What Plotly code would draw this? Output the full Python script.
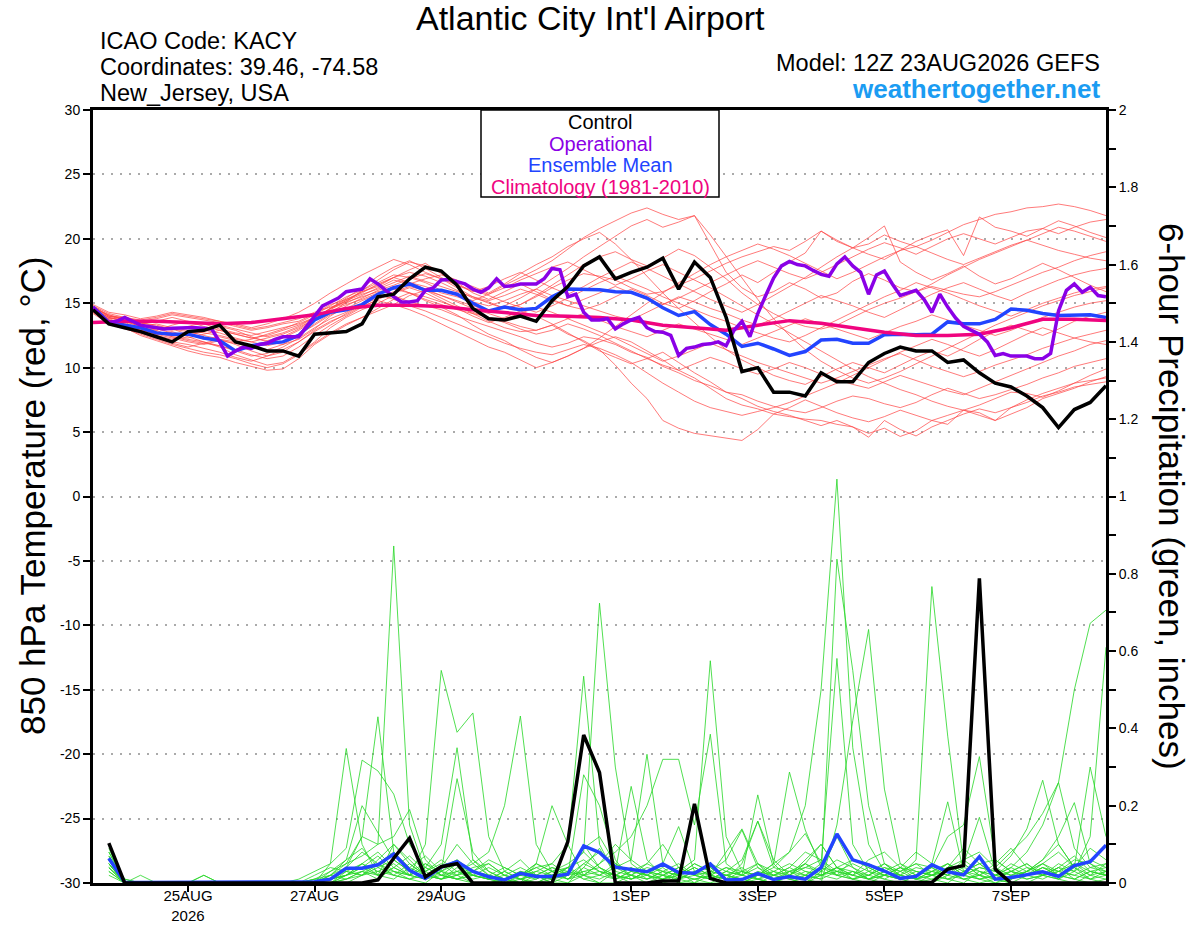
import pandas as pd
import plotly.graph_objects as go

# GEFS plume for KACY, 12Z 23AUG2026 run
t6 = pd.date_range("2026-08-23 12:00", periods=65, freq="6h")
t3 = pd.date_range("2026-08-23 12:00", periods=129, freq="3h")
t12 = pd.date_range("2026-08-23 12:00", periods=33, freq="12h")
tp = t6[1:]

# 850 hPa temperature (C)
control_temp = [14.5, 13.4, 13.1, 12.8, 12.4, 12.0, 12.8, 12.9, 13.3, 12.0, 11.7, 11.3, 11.3, 10.9, 12.6, 12.7,
                12.8, 13.4, 15.5, 15.7, 16.9, 17.8, 17.5,
                16.4, 14.6, 13.8, 13.7, 14.0, 13.6, 15.2, 16.3, 17.9, 18.6, 16.9, 17.4, 17.8, 18.5, 16.1, 18.2,
                17.0, 13.9, 9.7, 10.0, 8.1, 8.1,
                7.8, 9.6, 8.9, 8.9, 10.4, 11.1, 11.6, 11.3, 11.3, 10.4, 10.6, 9.6, 8.8, 8.5, 7.8, 6.9, 5.35, 6.75,
                7.3, 8.6]
mean_temp = [14.7, 13.5, 13.3, 13.1, 12.7, 12.6, 12.6, 12.3, 12.1, 11.3, 11.7, 11.9, 12.0, 12.5, 13.7, 14.3,
             14.5, 14.9, 15.7, 16.2, 16.5, 16.0, 16.0,
             15.7, 15.0, 14.4, 14.7, 14.5, 14.6, 15.5, 16.1, 16.1, 16.05, 15.9, 15.85, 15.4, 14.65, 14.05, 14.35,
             13.35, 12.6, 11.65, 11.9, 11.45, 10.95,
             11.25, 12.15, 12.2, 11.9, 11.9, 12.55, 12.6, 12.55, 12.6, 13.55, 13.4, 13.4, 13.75, 14.55, 14.45,
             14.2, 14.05, 14.1, 14.1, 13.9]
oper_temp = [14.7, 14.0, 13.5, 13.6, 13.9, 13.6, 13.3, 13.2, 13.1, 13.0, 13.05, 13.1, 13.1, 13.1, 13.05, 13.0,
             12.0, 10.9, 11.3, 11.6, 11.5, 11.8, 11.9, 12.2, 12.4, 12.4, 12.4, 13.2, 14.05, 14.8, 15.1, 15.4,
             15.9, 16.0, 16.1, 16.9, 16.5, 16.0, 15.5, 15.1, 15.1, 15.2, 16.0, 16.2, 16.8,
             16.85, 16.7, 16.5, 16.1, 15.85, 16.2, 16.9, 16.3, 16.35, 16.5, 16.5, 16.5, 16.9, 17.7, 17.6, 15.5,
             15.7, 14.3, 13.7, 13.7, 13.8, 13.0, 13.4, 13.7, 13.9, 13.1, 12.8, 12.75, 12.5, 10.95, 11.5, 11.6,
             11.8, 11.85, 12.0, 11.7, 12.9, 13.6, 12.4, 14.2, 15.6,
             16.96, 17.9, 18.25, 18.0, 17.9, 17.55, 17.24, 17.1, 18.06, 18.6, 17.9, 17.4, 15.7, 17.2, 17.5,
             16.5, 15.6, 15.8, 16.0, 15.3, 14.3, 15.7, 14.7, 13.85, 13.2, 12.9, 12.6, 12.0, 10.95, 11.1, 10.9,
             10.9, 10.9, 10.7, 10.7, 11.1, 14.4, 16.0, 16.5, 15.86, 16.25, 15.6, 15.5]
clim_temp = [13.5, 13.6, 13.6, 13.5, 13.4, 13.5, 13.8, 14.1, 14.6, 14.85, 14.85, 14.75, 14.5, 14.3, 14.05,
             14.0, 13.9, 13.7, 13.3, 13.1, 12.9, 13.3, 13.65, 13.45, 13.1, 12.75, 12.5, 12.5, 12.6, 13.1,
             13.75, 13.75, 13.67]

t01 = [14.6, 13.9, 13.6, 13.2, 13.4, 13.1, 12.9, 12.7, 12.5, 12.2, 12.0, 12.3, 12.6, 13.1, 13.8, 14.6, 15.0,
       15.6, 16.2, 16.8, 16.5, 16.9, 17.2, 16.8, 16.1, 15.7, 16.4, 17.0, 17.6, 18.3, 19.2, 20.1, 20.8,
       21.4, 22.0, 22.4, 21.9, 21.5, 21.8, 19.6, 17.4, 16.2, 15.5, 15.9, 16.6, 16.1, 15.4, 15.8, 16.7,
       17.3, 16.8, 16.2, 15.9, 16.5, 17.2, 17.8, 18.4, 18.9, 19.4, 19.9, 20.4, 20.9, 20.6, 20.2, 19.8]
t02 = [14.4, 13.6, 13.3, 12.8, 12.4, 12.0, 11.8, 11.5, 11.2, 10.8, 10.5, 10.9, 11.4, 12.0, 12.9, 13.6, 14.1,
       14.8, 15.2, 14.9, 15.6, 16.0, 15.4, 14.8, 14.2, 13.6, 13.1, 12.8, 12.9, 13.3, 12.6, 12.1, 11.4,
       10.2, 8.8, 7.6, 5.9, 5.3, 4.9, 4.7, 4.5, 4.35, 5.2, 6.4, 6.2, 6.0, 5.9, 5.6, 5.4,
       4.6, 5.9, 5.2, 4.7, 5.4, 5.9, 6.4, 6.8, 6.5, 6.9, 7.3, 7.8, 8.1, 8.5, 8.7, 8.9]
t03 = [14.8, 14.0, 13.9, 13.6, 13.8, 14.1, 13.9, 13.7, 13.5, 13.2, 12.9, 13.1, 13.4, 13.6, 14.2, 14.9, 15.3,
       15.8, 16.5, 17.0, 17.4, 17.1, 16.6, 16.0, 15.4, 15.1, 14.6, 14.9, 15.5, 16.2, 16.8, 17.3, 17.1,
       16.8, 16.2, 15.7, 15.9, 16.4, 16.9, 17.5, 18.1, 18.6, 19.0, 19.4, 19.1, 19.8, 20.6, 19.9, 19.3,
       19.6, 20.3, 19.8, 19.4, 19.9, 20.5, 21.1, 21.5, 21.9, 22.1, 22.4, 22.5, 22.7, 22.5, 22.2, 21.8]
t04 = [14.5, 13.8, 13.4, 13.0, 12.6, 12.8, 12.4, 12.0, 11.6, 11.0, 10.6, 10.2, 10.4, 11.1, 12.0, 13.1, 13.9,
       14.5, 15.0, 15.6, 15.1, 14.8, 14.5, 14.0, 13.6, 13.2, 12.8, 12.4, 11.9, 11.6, 11.9, 12.4, 12.2,
       11.8, 11.2, 10.8, 10.1, 9.6, 9.0, 8.6, 8.1, 7.9, 7.4, 7.0, 6.7, 6.5, 6.9, 7.4, 7.8,
       7.6, 7.2, 6.9, 7.3, 7.9, 8.4, 8.0, 7.6, 7.9, 8.3, 8.7, 9.2, 9.6, 10.1, 10.4, 10.7]
t05 = [14.7, 14.1, 13.7, 13.3, 13.0, 12.7, 12.5, 12.8, 13.2, 12.9, 12.4, 12.0, 11.8, 12.2, 13.0, 14.0, 14.8,
       15.4, 16.0, 16.4, 16.9, 17.3, 16.9, 16.2, 15.5, 15.0, 14.6, 14.9, 15.6, 16.4, 17.2, 18.0, 18.6,
       19.0, 18.4, 17.9, 18.5, 19.2, 18.7, 17.8, 16.9, 15.8, 14.9, 14.2, 13.6, 13.2, 13.0, 13.3, 13.9,
       14.5, 15.0, 15.4, 15.9, 16.3, 16.0, 15.7, 15.5, 15.9, 16.4, 16.9, 17.4, 17.8, 18.3, 18.7, 19.0]
t06 = [14.3, 13.5, 13.1, 12.5, 12.1, 11.7, 11.3, 11.0, 10.8, 10.4, 10.1, 9.8, 9.9, 10.7, 11.8, 12.6, 13.3,
       13.9, 14.6, 15.3, 15.8, 15.2, 14.7, 14.1, 13.3, 12.6, 12.1, 11.4, 10.8, 10.4, 10.9, 11.5, 12.0,
       12.4, 12.0, 11.3, 10.6, 9.8, 9.2, 8.4, 7.6, 7.1, 6.8, 6.4, 6.9, 7.5, 7.0, 6.5, 6.1,
       5.8, 6.2, 6.7, 6.3, 5.9, 6.3, 6.7, 6.5, 5.9, 6.4, 6.9, 7.6, 8.0, 8.4, 8.9, 9.3]
t07 = [14.6, 13.7, 13.5, 13.1, 12.9, 13.3, 13.6, 13.4, 13.0, 12.7, 12.5, 12.8, 13.1, 13.4, 13.9, 14.5, 15.2,
       15.9, 16.3, 17.0, 17.6, 18.1, 17.3, 16.6, 15.8, 15.3, 15.9, 16.5, 15.9, 15.3, 14.8, 14.5, 14.9,
       15.5, 16.1, 15.6, 15.0, 14.6, 15.2, 15.9, 16.5, 17.2, 16.6, 17.4, 18.2, 18.9, 20.6, 19.8, 19.3,
       20.1, 21.0, 18.2, 17.4, 16.8, 17.3, 17.9, 17.1, 16.5, 16.9, 17.5, 18.1, 17.6, 17.0, 16.4, 15.9]
t08 = [14.4, 13.8, 13.9, 13.5, 13.2, 13.0, 12.6, 12.2, 12.4, 12.1, 11.7, 11.4, 11.8, 12.5, 13.4, 14.2, 15.1,
       16.0, 16.8, 17.6, 18.2, 17.9, 17.4, 16.7, 16.3, 15.8, 16.5, 17.3, 18.0, 18.6, 19.4, 20.0, 20.5,
       19.6, 18.4, 17.1, 15.8, 14.6, 13.5, 12.4, 11.4, 10.6, 10.0, 9.4, 9.0, 8.7, 9.3, 9.9, 10.4,
       10.0, 9.6, 10.2, 10.8, 11.3, 10.9, 11.5, 12.2, 12.8, 13.3, 12.9, 12.5, 13.0, 13.6, 14.0, 14.3]
t09 = [14.5, 13.9, 13.6, 13.3, 12.9, 12.4, 12.1, 11.9, 11.7, 11.4, 11.0, 10.7, 10.9, 11.6, 12.5, 13.3, 14.0,
       14.7, 15.3, 15.8, 16.2, 15.8, 15.2, 14.6, 14.0, 13.5, 13.9, 14.4, 14.0, 13.4, 12.7, 12.0, 11.3,
       10.8, 10.3, 10.7, 11.2, 10.4, 9.6, 8.9, 8.1, 7.6, 7.0, 6.6, 6.3, 5.9, 5.5, 5.9, 5.4,
       4.9, 5.3, 4.66, 5.1, 5.9, 5.6, 6.7, 6.3, 5.9, 6.9, 7.5, 8.0, 8.4, 8.8, 9.0, 9.2]
t10 = [14.7, 14.0, 13.8, 13.4, 13.6, 13.9, 13.6, 13.2, 12.9, 12.6, 12.3, 12.5, 12.9, 13.3, 13.9, 14.4, 14.9,
       15.3, 15.8, 16.2, 16.6, 16.3, 15.8, 15.5, 15.1, 14.8, 15.2, 15.7, 16.1, 15.6, 15.2, 14.8, 14.4,
       14.0, 13.7, 14.3, 14.9, 15.5, 15.1, 14.6, 14.2, 13.7, 13.3, 13.8, 14.4, 15.0, 15.6, 15.2, 14.8,
       14.3, 13.9, 14.5, 15.1, 15.7, 16.2, 16.6, 16.1, 15.6, 15.2, 15.8, 16.3, 16.8, 17.2, 17.5, 17.7]
t11 = [14.5, 13.7, 13.4, 12.9, 12.6, 12.3, 12.0, 11.8, 12.1, 11.9, 11.6, 11.9, 12.3, 12.9, 13.7, 14.6, 15.4,
       16.2, 17.1, 17.8, 18.3, 17.7, 17.0, 16.4, 15.9, 16.3, 16.9, 17.4, 16.8, 16.2, 15.7, 16.3, 17.0,
       17.6, 18.2, 17.7, 17.1, 16.5, 15.9, 15.3, 14.8, 14.3, 14.9, 15.6, 16.3, 17.0, 17.8, 18.6, 19.3,
       18.8, 18.4, 19.1, 19.8, 20.3, 20.7, 18.7, 21.7, 20.9, 20.6, 20.2, 20.8, 21.4, 21.0, 20.5, 20.1]
t12m = [14.2, 13.4, 13.0, 12.7, 12.3, 11.9, 11.6, 11.9, 12.2, 11.8, 11.3, 10.9, 11.2, 12.0, 12.8, 13.5, 14.2,
        14.9, 15.7, 16.3, 15.8, 15.3, 14.9, 14.5, 14.2, 13.9, 13.5, 13.0, 12.6, 12.9, 13.4, 13.0, 12.5,
        11.9, 11.3, 10.7, 10.2, 9.8, 10.3, 10.8, 10.4, 9.9, 9.5, 9.9, 10.4, 10.0, 9.5, 9.1, 8.7,
        8.4, 8.9, 9.4, 9.0, 8.6, 8.2, 7.9, 8.4, 8.9, 9.4, 9.9, 10.4, 10.9, 11.3, 11.8, 12.1]
t13 = [14.6, 14.1, 13.8, 13.5, 13.3, 13.0, 12.8, 12.5, 12.2, 12.0, 12.2, 12.6, 13.0, 13.5, 14.1, 14.8, 15.5,
       16.0, 16.6, 17.2, 17.0, 16.6, 16.0, 15.6, 15.2, 15.7, 16.2, 16.8, 17.3, 17.8, 18.2, 17.6, 17.0,
       16.4, 16.9, 17.5, 18.0, 17.4, 16.8, 16.2, 15.5, 14.8, 14.1, 13.4, 12.7, 12.0, 11.3, 10.6, 9.9,
       9.3, 8.8, 8.3, 7.9, 7.4, 7.0, 6.7, 7.1, 7.6, 8.1, 8.0, 7.7, 8.2, 8.8, 9.4, 9.9]
t14 = [14.8, 14.2, 13.9, 13.7, 13.9, 14.2, 14.0, 13.8, 13.6, 13.3, 13.0, 13.2, 13.5, 13.8, 14.3, 14.7, 15.1,
       15.5, 15.9, 16.1, 15.8, 15.5, 15.1, 14.7, 14.3, 13.9, 13.6, 13.2, 12.9, 13.3, 13.8, 14.2, 13.7,
       13.2, 12.8, 12.4, 12.9, 13.4, 13.0, 12.6, 12.2, 11.8, 12.3, 12.8, 13.3, 13.8, 13.4, 13.0, 12.6,
       12.2, 12.7, 13.2, 13.6, 14.1, 13.7, 13.3, 12.9, 12.5, 12.9, 13.4, 13.9, 14.3, 14.7, 15.0, 15.2]
t15 = [14.4, 13.6, 13.2, 12.8, 12.5, 12.2, 12.6, 12.9, 12.7, 12.3, 12.0, 11.7, 12.0, 12.6, 13.3, 14.1, 14.6,
       15.2, 15.7, 15.3, 14.8, 14.4, 13.9, 13.4, 12.9, 12.4, 11.9, 11.5, 11.2, 11.0, 11.4, 11.8, 11.5,
       11.0, 10.4, 9.6, 8.8, 8.1, 7.4, 6.9, 6.6, 6.3, 6.6, 6.9, 7.3, 7.8, 8.3, 8.8, 9.4,
       10.0, 10.6, 11.2, 11.7, 12.2, 11.8, 11.3, 10.9, 11.4, 12.0, 12.6, 13.1, 12.7, 12.3, 12.0, 11.8]
t16 = [14.9, 14.3, 14.1, 13.8, 14.0, 14.3, 14.1, 13.9, 13.6, 13.4, 13.1, 13.4, 13.8, 14.3, 15.0, 15.8, 16.5,
       17.2, 17.8, 18.4, 18.0, 17.4, 16.9, 16.4, 16.0, 15.6, 15.1, 14.7, 14.3, 14.8, 15.4, 16.0, 16.6,
       17.1, 16.6, 16.1, 15.5, 15.0, 14.5, 14.0, 13.6, 13.1, 12.7, 12.3, 12.0, 12.5, 13.1, 13.7, 14.3,
       14.9, 15.5, 16.0, 16.6, 16.2, 15.8, 15.3, 14.8, 14.4, 14.0, 14.5, 15.0, 15.4, 15.8, 16.1, 16.3]
t17 = [14.3, 13.5, 13.1, 12.6, 12.2, 11.8, 11.5, 11.2, 11.0, 10.7, 10.3, 10.0, 10.3, 11.0, 11.9, 12.7, 13.4,
       13.9, 14.4, 14.9, 14.5, 14.0, 13.4, 12.8, 12.2, 11.6, 11.2, 10.6, 10.0, 10.4, 10.9, 11.5, 12.3,
       13.2, 14.1, 15.0, 15.8, 16.6, 17.3, 18.0, 18.6, 19.1, 19.6, 19.2, 18.7, 18.1, 17.5, 16.9, 17.4,
       18.0, 18.6, 19.1, 19.4, 18.9, 18.4, 18.0, 18.5, 19.0, 19.5, 19.9, 19.5, 19.1, 18.8, 18.5, 18.3]
t18 = [14.6, 13.9, 13.6, 13.2, 12.8, 12.5, 12.3, 12.6, 12.9, 12.6, 12.3, 12.1, 12.4, 13.0, 13.8, 14.6, 15.3,
       15.9, 16.4, 17.0, 16.6, 16.1, 15.6, 15.2, 14.8, 14.4, 14.8, 15.4, 16.1, 16.9, 17.7, 18.6, 19.4,
       20.2, 21.0, 21.5, 20.9, 21.3, 21.8, 20.3, 18.6, 16.9, 15.3, 13.8, 12.5, 11.4, 10.5, 9.8, 9.2,
       8.8, 9.2, 9.7, 10.3, 10.9, 11.5, 12.1, 12.7, 13.3, 13.8, 14.3, 14.8, 15.2, 15.6, 15.9, 16.2]
t19 = [14.5, 13.7, 13.3, 12.9, 12.7, 12.4, 12.2, 12.0, 11.7, 11.3, 10.9, 11.1, 11.6, 12.3, 13.1, 13.8, 14.3,
       14.9, 15.4, 15.9, 16.3, 16.0, 15.6, 15.1, 14.6, 14.2, 13.8, 14.2, 14.7, 14.3, 13.8, 13.3, 12.8,
       12.3, 11.7, 11.1, 10.5, 10.9, 11.4, 11.9, 11.4, 10.9, 10.4, 10.0, 9.6, 9.2, 8.8, 9.2, 9.7,
       10.2, 10.7, 11.1, 10.6, 10.1, 9.7, 9.3, 9.7, 10.2, 10.6, 11.0, 11.5, 11.9, 12.3, 12.6, 12.9]
t20 = [14.7, 14.0, 13.7, 13.4, 13.1, 12.9, 13.2, 13.5, 13.3, 13.0, 12.7, 12.4, 12.7, 13.2, 13.9, 14.6, 15.2,
       15.7, 16.1, 16.6, 17.1, 16.7, 16.3, 15.9, 15.5, 15.2, 15.6, 16.1, 15.7, 15.2, 14.8, 15.3, 15.8,
       16.3, 15.8, 15.3, 14.9, 15.4, 16.0, 16.6, 17.2, 17.8, 18.3, 17.8, 17.3, 16.9, 17.4, 18.0, 18.6,
       19.2, 19.7, 19.3, 18.8, 19.4, 20.0, 20.4, 20.0, 19.6, 20.1, 20.6, 20.8, 20.4, 20.9, 21.3, 21.5]

# 6-hour precipitation (inches), valid from +6h
control_precip = [0.103, 0, 0, 0, 0, 0, 0, 0, 0, 0, 0, 0, 0, 0, 0, 0, 0,
                  0.008, 0.064, 0.116, 0.016, 0.042, 0.05, 0, 0, 0, 0, 0, 0,
                  0.107, 0.383, 0.286, 0, 0, 0, 0.005, 0.005, 0.205, 0.012,
                  0, 0, 0, 0, 0, 0, 0, 0, 0, 0, 0, 0, 0,
                  0.002, 0.036, 0.045, 0.788, 0.036, 0, 0, 0, 0, 0, 0, 0]
mean_precip = [0.064, 0.002, 0.001, 0.001, 0.001, 0.001, 0.002, 0.001, 0.001, 0.001, 0.001, 0.001, 0.001,
               0.003, 0.01, 0.038, 0.038, 0.047, 0.075, 0.033, 0.012, 0.041, 0.055, 0.03,
               0.016, 0.008, 0.025, 0.017, 0.017, 0.023, 0.096, 0.079, 0.041, 0.034, 0.029, 0.049, 0.027,
               0.025, 0.049, 0.008, 0.009, 0.025, 0.009, 0.017, 0.01,
               0.04, 0.127, 0.06, 0.047, 0.031, 0.012, 0.017, 0.047, 0.029, 0.021, 0.068, 0.01, 0.014,
               0.021, 0.029, 0.017, 0.045, 0.055, 0.098]

p01 = [.05, 0, 0, 0, 0, 0, 0, 0, 0, 0, 0, 0, 0, .01, .02, .05, .12, .1, .872, .15, .03, .05, .02, 0,
       0, .01, .03, .02, 0, 0, .04, .09, .02, 0, 0, .01, .03, 0, 0, 0, 0, .01, 0, .02, .05, .03, .12, .04,
       .01, 0, 0, .02, .04, .01, 0, .03, .01, 0, 0, .02, .05, .03, .01, .02]
p02 = [.08, .01, 0, 0, 0, 0, 0, 0, 0, 0, 0, 0, 0, 0, .05, .348, .1, .02, .03, .01, 0, .03, .05, .02,
       .01, 0, 0, .05, .2, .1, .02, 0, 0, .02, .05, .03, 0, 0, .02, .08, .14, .05, .01, 0, .02, .05, .581, .1,
       .03, .01, 0, 0, .01, .03, .05, .02, 0, .01, .03, .06, .1, .04, .01, 0]
p03 = [.1, 0, 0, 0, 0, 0, 0, 0, 0, 0, 0, 0, .01, .03, .05, .09, .318, .29, .23, .1, .04, .02, .01, .03,
       .05, .02, 0, 0, .01, .03, .09, .12, .05, .02, 0, .02, .01, 0, .04, .01, .02, .228, .05, .01, 0, .02, .04, .02,
       .06, .08, .04, .01, 0, .02, .05, .17, .03, .01, .02, .04, .02, .01, 0, .01]
p04 = [.06, 0, .02, 0, 0, 0, 0, 0, 0, 0, 0, 0, 0, 0, .02, .04, .12, .43, .08, .02, .04, .1, .35, .06,
       .02, 0, .01, .02, 0, .02, .28, .2, .06, .01, .02, .05, .146, .03, .01, 0, 0, .02, .05, .287, .137, .04, .02, .06,
       .04, .02, .01, 0, .02, .03, .01, .02, .05, .09, .04, .02, .01, .03, .06, .04]
p05 = [.04, 0, 0, 0, 0, 0, .02, 0, 0, 0, 0, 0, 0, 0, .01, .02, .05, .08, .04, .02, .1, .55, .39, .44,
       .12, .03, .01, 0, .02, .04, .01, 0, .03, .25, .06, .02, 0, .01, .02, .04, .02, .01, 0, .03, .02, .01, .838, .55,
       .2, .05, .02, .01, .03, .05, .02, .01, 0, .02, .04, .03, .01, 0, .02, .05]
p06 = [.03, 0, 0, 0, 0, 0, 0, 0, 0, 0, 0, 0, 0, .01, .01, .03, .02, .06, .1, .05, .02, .01, .03, .05,
       .08, .2, .432, .1, .03, .01, .02, .05, .1, .06, .333, .05, .02, .01, 0, .02, .01, 0, .02, .04, .08, .06, .03, .01,
       .02, .05, .03, .01, .02, .04, .09, .05, .02, .01, .03, .05, .02, .01, .03, .02]
p07 = [.07, 0, 0, 0, 0, 0, 0, 0, 0, 0, 0, 0, 0, 0, .03, .06, .2, .13, .06, .03, .05, .02, .01, 0,
       0, .01, .02, .04, .05, .1, .535, .1, .02, .04, .02, .01, .03, .06, .575, .12, .03, .01, 0, .02, .06, .1, .04, .02,
       .01, .03, .02, .06, .767, .38, .05, .02, .01, 0, .02, .04, .03, .05, .02, .01]
p08 = [.09, 0, 0, 0, 0, 0, 0, 0, 0, 0, 0, 0, 0, .02, .04, .03, .05, .02, .01, .04, .07, .03, .27, .08,
       .03, .01, 0, .01, .03, .04, .08, .724, .3, .05, .02, 0, .01, .03, .02, .01, 0, .02, .04, .03, .01, 0, .15, .42,
       .656, .243, .05, .02, .01, 0, .03, .05, .02, .04, .02, .01, .03, .06, .05, .03]
p09 = [.05, 0, 0, 0, 0, 0, 0, 0, 0, 0, 0, 0, 0, 0, 0, .01, .03, .05, .02, .01, .03, .06, .03, .02,
       .01, .03, .06, .02, .01, .04, .02, .05, .08, .12, .2, .32, .32, .15, .385, .05, .02, .01, .03, .02, .05, .1, .04, .01,
       0, .02, .04, .08, .05, .21, .03, .01, .02, .05, .03, .02, .01, .04, .09, .06]
p10 = [.04, 0, 0, 0, 0, 0, 0, 0, 0, 0, 0, 0, 0, 0, .01, .02, .04, .02, .1, .06, .02, .01, .04, .02,
       .01, 0, .02, .05, .03, .01, .05, .08, .04, .02, .01, .03, .05, .02, .01, .03, .06, .16, .04, .08, .2, .5, 1.045, .35,
       .1, .03, .01, .02, .04, .02, .01, 0, .01, .03, .05, .02, .04, .07, .03, .02]
p11 = [.06, 0, 0, 0, 0, 0, 0, 0, 0, 0, 0, 0, 0, 0, 0, .02, .04, .07, .03, .02, .01, .03, .02, .06,
       .03, .01, 0, .02, .04, .03, .01, .02, .05, .03, .02, .04, .01, .02, .05, .03, .02, .04, .02, .01, 0, .03, .06, .04,
       .02, .01, .03, .05, .04, .12, .15, .327, .06, .03, .02, .05, .08, .04, .02, .03]
p12 = [.1, 0, 0, 0, 0, 0, 0, 0, 0, 0, 0, 0, 0, 0, 0, 0, .02, .04, .06, .03, .01, .02, .05, .03,
       .02, .01, .03, .02, .01, .02, .03, .04, .02, .01, .03, .02, .04, .02, .01, .02, .03, .05, .02, .01, .03, .02, .04, .03,
       .01, .02, .04, .03, .02, .05, .03, .02, .04, .08, .12, .18, .26, .5, .672, .706]
p13 = [.05, 0, 0, 0, 0, 0, 0, 0, 0, 0, 0, 0, 0, 0, 0, .01, .02, .03, .05, .02, .01, .04, .06, .03,
       .02, .01, .02, .04, .02, .01, .03, .02, .01, .03, .02, .01, .02, .04, .02, .01, .05, .16, .06, .02, .01, .02, .03, .05,
       .03, .02, .01, .02, .05, .03, .02, .04, .03, .07, .14, .266, .1, .04, .3, .12]
p14 = [.03, 0, 0, 0, 0, 0, 0, 0, 0, 0, 0, 0, 0, 0, .01, .04, .08, .05, .03, .02, .04, .02, .01, .02,
       .01, .02, .04, .02, .01, 0, .02, .03, .02, .01, .03, .05, .02, .01, .02, .04, .03, .02, .05, .08, .128, .05, .02, .01,
       .02, .04, .02, .01, .03, .02, .04, .03, .02, .01, .03, .06, .12, .208, .05, .02]
p15 = [.07, .01, 0, 0, 0, 0, 0, 0, 0, 0, 0, 0, 0, 0, .02, .01, .03, .02, .04, .07, .03, .01, .02, .04,
       .05, .02, .01, .03, .02, .04, .06, .03, .01, .02, .04, .03, .02, .05, .03, .06, .137, .04, .01, .02, .04, .03, .02, .01,
       .03, .05, .02, .01, .02, .04, .06, .03, .02, .04, .08, .15, .26, .09, .04, .03]
p16 = [.04, 0, 0, 0, 0, 0, .02, 0, 0, 0, 0, 0, 0, 0, 0, .02, .05, .03, .02, .05, .02, .03, .01, .02,
       .04, .02, .01, 0, .02, .03, .02, .01, .03, .02, .01, .02, .04, .02, .03, .02, .01, .03, .02, .04, .02, .01, .03, .02,
       .04, .02, .01, .03, .02, .01, .02, .04, .03, .02, .01, .02, .04, .03, .12, .61]
p17 = [.06, 0, 0, 0, 0, 0, 0, 0, 0, 0, 0, 0, 0, .01, .03, .05, .07, .1, .12, .19, .06, .02, .03, .01,
       .02, .04, .02, .01, .03, .05, .08, .04, .02, .01, .03, .02, .01, .03, .04, .02, .01, .02, .03, .05, .03, .02, .04, .06,
       .05, .03, .02, .04, .03, .02, .06, .08, .04, .02, .03, .05, .03, .02, .01, .03]
p18 = [.08, 0, 0, 0, 0, 0, 0, 0, 0, 0, 0, 0, 0, 0, .02, .06, .09, .04, .02, .01, .02, .04, .1, .05,
       .02, .01, .02, .03, .05, .02, .1, .04, .01, .03, .05, .1, .04, .02, .01, .03, .02, .05, .03, .01, .02, .04, .03, .02,
       .01, .03, .05, .03, .02, .01, .03, .05, .06, .03, .02, .04, .02, .05, .03, .02]
p19 = [.02, 0, 0, 0, 0, 0, 0, 0, 0, 0, 0, 0, 0, 0, 0, .03, .02, .05, .08, .04, .02, .01, .02, .03,
       .06, .04, .02, .05, .03, .01, .04, .02, .04, .06, .03, .01, .02, .04, .02, .01, .03, .02, .01, .03, .05, .02, .01, .03,
       .02, .04, .03, .05, .02, .03, .01, .02, .01, .03, .05, .02, .04, .01, .03, .04]
p20 = [.05, 0, 0, 0, 0, 0, 0, 0, 0, 0, 0, 0, 0, 0, .01, .02, .03, .01, .04, .02, .05, .03, .06, .02,
       .01, .03, .01, .02, .04, .02, .05, .03, .02, .04, .01, .03, .02, .05, .03, .02, .04, .01, .02, .03, .04, .06, .02, .03,
       .01, .02, .04, .02, .03, .05, .02, .01, .02, .03, .01, .02, .03, .02, .04, .05]

member_temps = [t01, t02, t03, t04, t05, t06, t07, t08, t09, t10,
                t11, t12m, t13, t14, t15, t16, t17, t18, t19, t20]
member_precips = [p01, p02, p03, p04, p05, p06, p07, p08, p09, p10,
                  p11, p12, p13, p14, p15, p16, p17, p18, p19, p20]
for k, s in enumerate(member_temps):
    assert len(s) == 65, ("temp", k + 1, len(s))
for k, s in enumerate(member_precips):
    assert len(s) == 64, ("precip", k + 1, len(s))

date_ticks = ["2026-08-25", "2026-08-27", "2026-08-29", "2026-09-01", "2026-09-03", "2026-09-05", "2026-09-07"]
date_labels = ["25AUG<br>2026", "27AUG", "29AUG", "1SEP", "3SEP", "5SEP", "7SEP"]
temp_ticks = list(range(-30, 31, 5))

RED = "rgba(255,70,70,0.8)"
GREEN = "rgba(40,215,40,0.9)"
BLACK = "#000000"
PURPLE = "#8a00e6"
BLUE = "#2244ff"
MAGENTA = "#f0047f"

fig = go.Figure()

for s in member_temps:
    fig.add_trace(go.Scatter(x=t6, y=s, mode="lines", line=dict(color=RED, width=0.9), hoverinfo="skip"))
for s in member_precips:
    fig.add_trace(go.Scatter(x=tp, y=s, yaxis="y2", mode="lines", line=dict(color=GREEN, width=0.9),
                             hoverinfo="skip"))

fig.add_trace(go.Scatter(x=tp, y=mean_precip, yaxis="y2", mode="lines", line=dict(color=BLUE, width=3.5)))
fig.add_trace(go.Scatter(x=tp, y=control_precip, yaxis="y2", mode="lines", line=dict(color=BLACK, width=3.5)))
fig.add_trace(go.Scatter(x=t6, y=mean_temp, mode="lines", line=dict(color=BLUE, width=3.5)))
fig.add_trace(go.Scatter(x=t12, y=clim_temp, mode="lines", line=dict(color=MAGENTA, width=3.5)))
fig.add_trace(go.Scatter(x=t3, y=oper_temp, mode="lines", line=dict(color=PURPLE, width=3.5)))
fig.add_trace(go.Scatter(x=t6, y=control_temp, mode="lines", line=dict(color=BLACK, width=3.5)))

FONT = "Liberation Sans, Arial, Helvetica, sans-serif"

fig.update_layout(
    width=1200, height=927,
    margin=dict(l=93, r=94, t=110, b=44, autoexpand=False),
    paper_bgcolor="white", plot_bgcolor="white",
    showlegend=False,
    font=dict(family=FONT, color="black"),
    xaxis=dict(type="date", range=["2026-08-23 12:00", "2026-09-08 12:00"],
               tickvals=date_ticks, ticktext=date_labels, automargin=False, ticklabelstandoff=-9,
               ticks="outside", ticklen=6, tickwidth=1.5, tickcolor="black",
               showline=True, linewidth=3, linecolor="black", mirror=True,
               showgrid=False, zeroline=False, tickfont=dict(size=15)),
    yaxis=dict(range=[-30, 30], tickvals=temp_ticks, ticktext=[str(v) for v in temp_ticks], automargin=False,
               ticks="outside", ticklen=7, tickwidth=1.5, tickcolor="black",
               showline=True, linewidth=3, linecolor="black",
               showgrid=True, gridcolor="#aaaaaa", gridwidth=1.5, griddash="2px,7px",
               zeroline=False, tickfont=dict(size=14)),
    yaxis2=dict(range=[0, 2], overlaying="y", side="right", tick0=0, dtick=0.2, automargin=False,
                ticks="outside", ticklen=7, tickwidth=1.5, tickcolor="black",
                showline=True, linewidth=3, linecolor="black",
                showgrid=False, zeroline=False, tickfont=dict(size=14),
                minor=dict(dtick=0.1, ticks="outside", ticklen=7, tickwidth=1.5, tickcolor="black",
                           showgrid=False)),
)


def px_x(px):
    return (px - 93) / 1013


def px_y(py):
    return (883 - py) / 773


def note(text, px, py, size, color="black", xanchor="center", angle=0):
    fig.add_annotation(text=text, x=px_x(px), y=px_y(py), xref="paper", yref="paper",
                       showarrow=False, xanchor=xanchor, yanchor="middle", textangle=angle,
                       font=dict(family=FONT, size=size, color=color))


# legend box
fig.add_shape(type="rect", xref="paper", yref="paper",
              x0=px_x(481), x1=px_x(719), y0=px_y(197), y1=1.0,
              line=dict(color="black", width=1.5), fillcolor="white", layer="above")
note("Control", 600, 122, 20, BLACK)
note("Operational", 600, 143.5, 20, PURPLE)
note("Ensemble Mean", 600, 165, 20, BLUE)
note("Climatology (1981-2010)", 600, 186.5, 20, MAGENTA)

# header text
note("Atlantic City Int'l Airport", 590, 18, 34)
note("ICAO Code: KACY", 98, 41, 23.5, xanchor="left")
note("Coordinates: 39.46, -74.58", 98, 67, 23.5, xanchor="left")
note("New_Jersey, USA", 98, 93, 23.5, xanchor="left")
note("Model: 12Z 23AUG2026 GEFS", 1102, 63, 23.5, xanchor="right")
note("<b>weathertogether.net</b>", 1102, 89, 26, color="#1b9cf2", xanchor="right")

# axis titles
note("850 hPa Temperature (red, °C)", 32, 496, 35, angle=-90)
note("6-hour Precipitation (green, inches)", 1172, 496, 35, angle=90)

fig.write_html("out.html", config={"displayModeBar": False},
               post_script="document.body.style.margin='0';")
